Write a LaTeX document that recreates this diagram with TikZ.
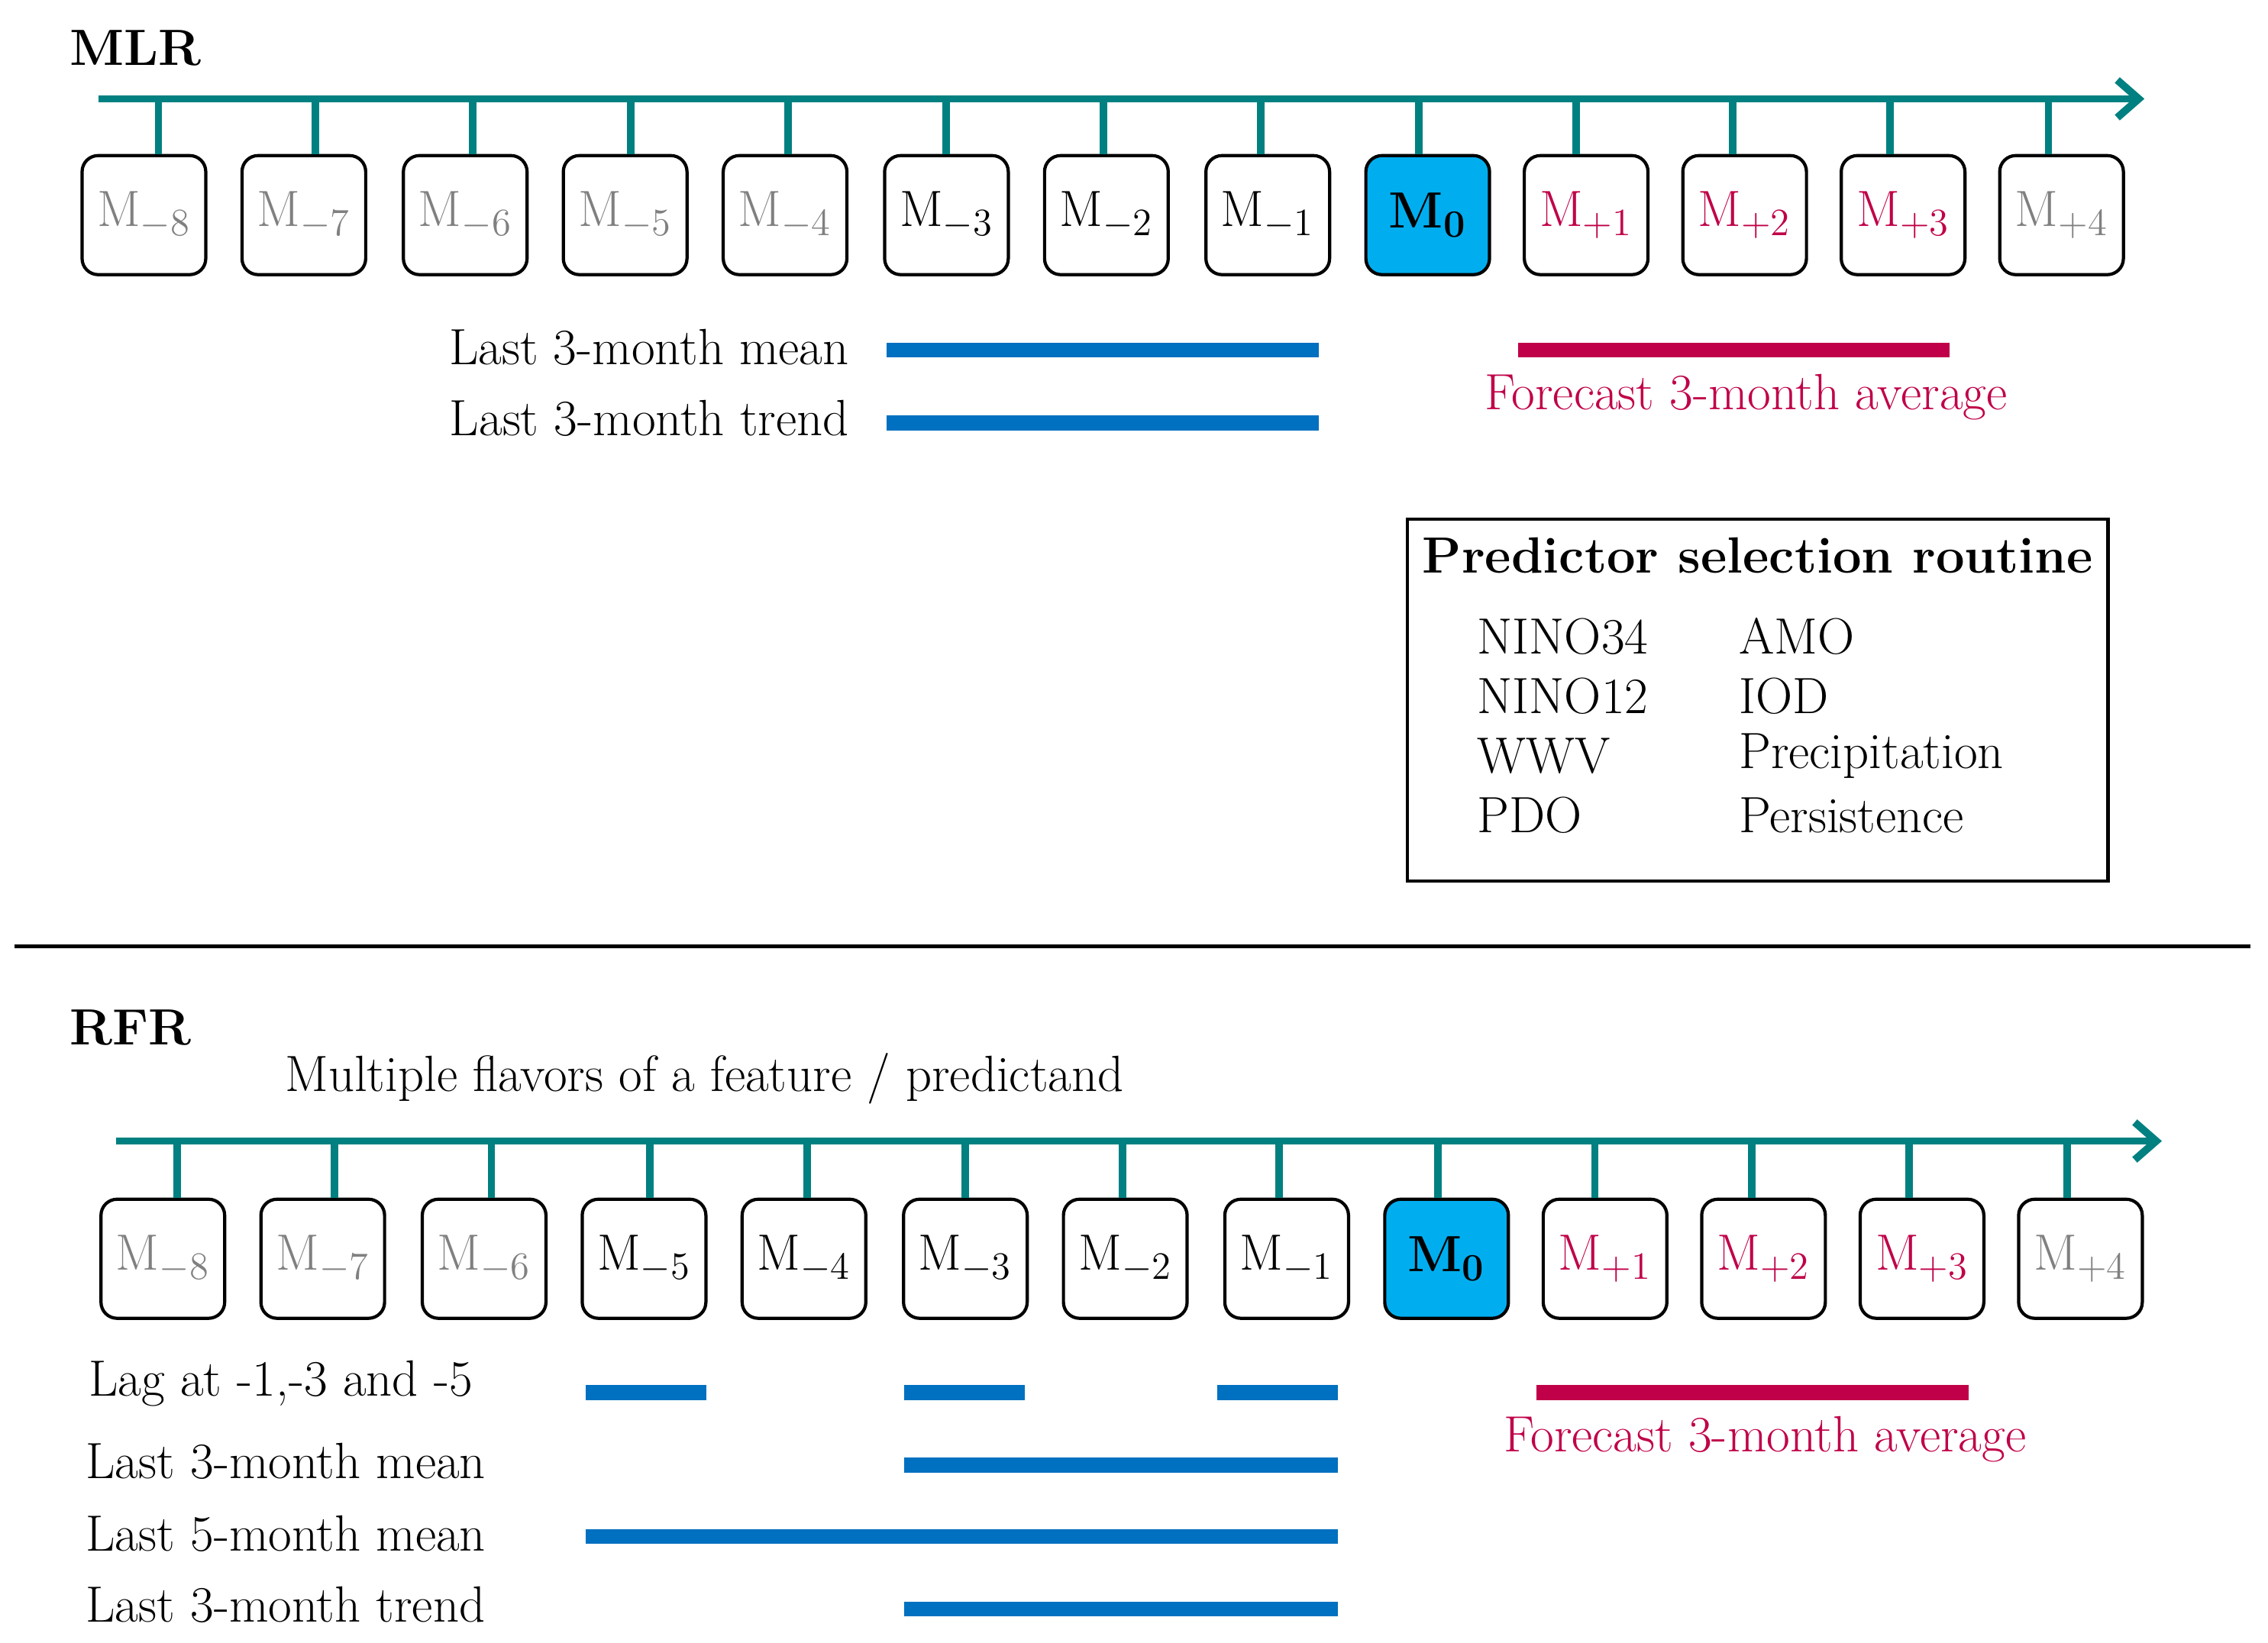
\documentclass[tikz,border=0pt]{standalone}
\usepackage{tikz}
\usetikzlibrary{arrows.meta}
\definecolor{tealline}{RGB}{0,128,128}
\definecolor{barblue}{RGB}{0,112,192}
\definecolor{fcred}{RGB}{192,0,72}
\definecolor{nowcyan}{RGB}{0,174,239}
\tikzset{
every picture/.style={
line width=1.2pt
}}
\newcommand{\bigtxt}{\fontsize{19}{23}\selectfont}
\begin{document}
\begin{tikzpicture}[x=0.01904cm, y=-0.01904cm,
month/.style = {rectangle, rounded corners=6pt, draw=black, minimum width=1.62cm, minimum height=1.56cm, font=\bigtxt},
axis/.style = {tealline, line width=2.8pt},
tick/.style = {tealline, line width=2.8pt},
bar/.style = {barblue, line width=5.5pt},
fbar/.style = {fcred, line width=5.5pt},
lbl/.style = {font=\bigtxt, inner sep=0pt}]
\useasboundingbox (0,0) rectangle (1560,1130);

% MLR panel
\node[lbl, font=\bigtxt\bfseries, anchor=west] (mlr) at (47,33) {MLR};
\coordinate (ta) at (68,68);
\coordinate (tb) at (1475,68);
\draw[axis, -{Straight Barb[length=8pt,width=14pt]}] (ta) -- (tb);
\foreach \i/\x/\tx/\c/\t in {0/99/109/gray/M$_{-8}$, 1/209/217/gray/M$_{-7}$, 2/320/325/gray/M$_{-6}$,
  3/430/434/gray/M$_{-5}$, 4/540/542/gray/M$_{-4}$, 5/651/651/black/M$_{-3}$, 6/761/759/black/M$_{-2}$,
  7/872/867/black/M$_{-1}$, 9/1091/1084/fcred/M$_{+1}$, 10/1200/1192/fcred/M$_{+2}$,
  11/1309/1300/fcred/M$_{+3}$, 12/1418/1409/gray/M$_{+4}$}{
  \node[month, text=\c] (t\i) at (\x,148) {\t};
  \coordinate (tt\i) at (\tx,68);
  \draw[tick] (tt\i) -- (tt\i |- t\i.north);
}
\node[month, fill=nowcyan] (t8) at (982,148) {\textbf{M}$_{\mathbf{0}}$};
\coordinate (tt8) at (976,68);
\draw[tick] (tt8) -- (tt8 |- t8.north);

\coordinate (tm1) at (610,241); \coordinate (tm2) at (907,241);
\coordinate (tr1) at (610,291); \coordinate (tr2) at (907,291);
\coordinate (tf1) at (1044,241); \coordinate (tf2) at (1341,241);
\draw[bar] (tm1) -- (tm2);
\draw[bar] (tr1) -- (tr2);
\draw[fbar] (tf1) -- (tf2);
\node[lbl, anchor=east] (tml) at (585,239) {Last 3-month mean};
\node[lbl, anchor=east] (trl) at (585,288) {Last 3-month trend};
\node[lbl, text=fcred] (tfl) at (1201,273) {Forecast 3-month average};

\draw (968,357) rectangle (1450,606);
\node[lbl, font=\bigtxt\bfseries] (psr) at (1209,382) {Predictor selection routine};
\foreach \a/\b [count=\k] in {NINO34/AMO, NINO12/IOD, WWV/Precipitation, PDO/Persistence}{
  \node[lbl, anchor=west] (pa\k) at (1015,397+41*\k) {\a};
  \node[lbl, anchor=west] (pb\k) at (1195,397+41*\k) {\b};
}

\coordinate (s1) at (10,651); \coordinate (s2) at (1548,651);
\draw (s1) -- (s2);

% RFR panel
\node[lbl, font=\bigtxt\bfseries, anchor=west] (rfr) at (47,707) {RFR};
\node[lbl, anchor=west] (flv) at (195,742) {Multiple flavors of a feature / predictand};
\coordinate (ba) at (80,785);
\coordinate (bb) at (1487,785);
\draw[axis, -{Straight Barb[length=8pt,width=14pt]}] (ba) -- (bb);
\foreach \i/\x/\tx/\c/\t in {0/112/122/gray/M$_{-8}$, 1/222/230/gray/M$_{-7}$, 2/333/338/gray/M$_{-6}$,
  3/443/447/black/M$_{-5}$, 4/553/555/black/M$_{-4}$, 5/664/664/black/M$_{-3}$, 6/774/772/black/M$_{-2}$,
  7/885/880/black/M$_{-1}$, 9/1104/1097/fcred/M$_{+1}$, 10/1213/1205/fcred/M$_{+2}$,
  11/1322/1313/fcred/M$_{+3}$, 12/1431/1422/gray/M$_{+4}$}{
  \node[month, text=\c] (b\i) at (\x,866) {\t};
  \coordinate (bt\i) at (\tx,785);
  \draw[tick] (bt\i) -- (bt\i |- b\i.north);
}
\node[month, fill=nowcyan] (b8) at (995,866) {\textbf{M}$_{\mathbf{0}}$};
\coordinate (bt8) at (989,785);
\draw[tick] (bt8) -- (bt8 |- b8.north);

\foreach \n/\xa/\xb/\y in {l1/403/486/958, l2/622/705/958, l3/837/920/958,
  m3/622/920/1008, m5/403/920/1057, tr/622/920/1107}{
  \coordinate (\n a) at (\xa,\y); \coordinate (\n b) at (\xb,\y);
  \draw[bar] (\n a) -- (\n b);
}
\coordinate (bfa) at (1057,958); \coordinate (bfb) at (1354,958);
\draw[fbar] (bfa) -- (bfb);
\node[lbl, anchor=west] (lagl) at (60,952) {Lag at -1,-3 and -5};
\node[lbl, anchor=west] (m3l) at (58,1005) {Last 3-month mean};
\node[lbl, anchor=west] (m5l) at (58,1055) {Last 5-month mean};
\node[lbl, anchor=west] (trl2) at (58,1104) {Last 3-month trend};
\node[lbl, text=fcred] (bfl) at (1214,990) {Forecast 3-month average};
\end{tikzpicture}
\end{document}
